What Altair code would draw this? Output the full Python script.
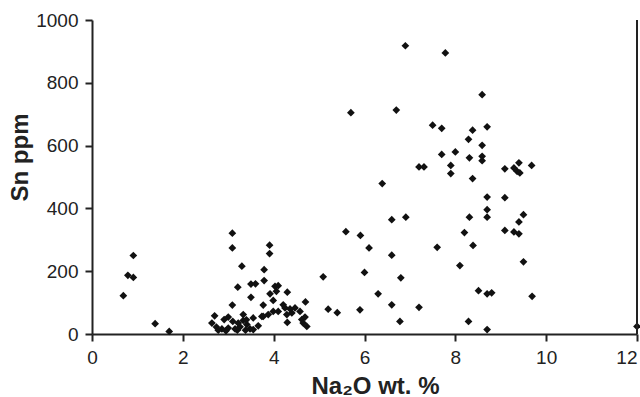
import altair as alt
import pandas as pd

na2o = [0.69, 0.79, 0.91, 0.91, 1.39, 1.70,
        2.70, 3.09, 3.09, 3.91, 3.91, 3.30, 3.79, 3.79, 5.09, 3.21, 3.50, 3.60,
        4.03, 4.10, 3.92, 4.06, 4.30, 3.50, 3.99, 3.09, 3.77, 4.70, 5.20, 5.40,
        3.00, 2.91, 3.10, 3.33, 3.55, 3.74, 2.64, 2.74, 2.86, 3.00, 3.15, 3.26,
        3.41, 3.48, 3.22, 3.33, 3.88, 3.66, 2.78, 2.95, 3.20, 3.38, 3.55, 3.40,
        4.21, 3.99, 4.10, 4.25, 4.36, 4.47, 4.58, 4.29, 4.30, 4.40, 4.62, 4.69,
        4.73, 4.65, 3.77,
        6.90, 7.78, 5.70, 6.70, 7.50, 7.70, 7.70, 7.20, 7.31, 7.90, 7.90, 6.39,
        6.60, 6.91, 5.59, 5.91, 6.10, 6.60, 7.60, 6.00, 6.80, 6.30, 5.90, 6.60,
        7.20, 6.78,
        8.59, 8.38, 8.70, 8.29, 8.59, 8.00, 8.31, 8.59, 8.59, 8.38, 9.09, 9.40,
        9.29, 9.36, 9.42, 9.68, 8.70, 9.09, 8.70, 8.70, 8.31, 9.50, 9.40, 8.20,
        9.09, 9.29, 9.40, 8.39, 8.10, 9.50, 8.51, 8.70, 8.80, 9.69, 8.29, 8.70,
        12.0]

sn = [122, 187, 180, 250, 33, 8,
      58, 321, 274, 283, 256, 216, 205, 170, 182, 149, 159, 160,
      152, 154, 128, 136, 133, 117, 107, 92, 92, 102, 79, 68,
      54, 46, 40, 43, 51, 56, 35, 22, 16, 19, 16, 23,
      30, 16, 35, 62, 62, 26, 12, 10, 12, 12, 14, 45,
      93, 72, 72, 83, 80, 83, 72, 62, 37, 67, 46, 54,
      24, 35, 56,
      918, 895, 705, 713, 665, 655, 572, 532, 532, 537, 511, 479,
      364, 372, 326, 314, 274, 251, 276, 196, 179, 128, 77, 93,
      85, 40,
      762, 649, 660, 620, 601, 580, 561, 566, 552, 495, 526, 545,
      529, 518, 513, 537, 436, 434, 396, 372, 372, 380, 357, 323,
      330, 325, 319, 282, 218, 230, 138, 128, 131, 120, 40, 14,
      24]

x_ticks = [0, 2, 4, 6, 8, 10, 12]
y_ticks = [0, 200, 400, 600, 800, 1000]

df = pd.DataFrame({"na2o": na2o, "sn": sn})
FONT = "Liberation Sans"
DARK = "#222222"

points = alt.Chart(df).mark_point(
    shape="diamond", filled=True, size=60, color="#111111", opacity=1, clip=False
).encode(
    x=alt.X("na2o:Q", scale=alt.Scale(domain=[0, 12], nice=False, zero=False),
            axis=alt.Axis(values=x_ticks, title="Na\u2082O wt. %", grid=False,
                          tickSize=7, labelPadding=7, titleX=283, titleY=59,
                          titleAlign="center", titleBaseline="alphabetic",
                          labelAlign={"condition": {"test": "datum.value == 12", "value": "right"},
                                      "value": "center"})),
    y=alt.Y("sn:Q", scale=alt.Scale(domain=[0, 1000], nice=False),
            axis=alt.Axis(values=y_ticks, format="d", title="Sn ppm", grid=False,
                          tickSize=7, labelPadding=7, titleX=-65, titleY=137,
                          titleAngle=-90, titleAlign="center",
                          titleBaseline="alphabetic")),
)

border = alt.Chart(pd.DataFrame({"x": [12]})).mark_rule(
    color=DARK, strokeWidth=2
).encode(x=alt.X("x:Q"))

chart = alt.layer(points, border).properties(
    width=545, height=314,
    autosize=alt.AutoSizeParams(type="none"),
    padding={"left": 92, "top": 20, "right": 3, "bottom": 63},
    background="white",
).configure_view(stroke=None).configure_axis(
    labelFont=FONT, titleFont=FONT, labelFontSize=19, titleFontSize=24,
    titleFontWeight="bold", labelColor=DARK, titleColor=DARK,
    domainColor=DARK, tickColor=DARK, domainWidth=2, tickWidth=2,
    labelFlush=False, labelOverlap=False,
)

chart.save("out.html", embed_options={"renderer": "svg", "actions": False})
